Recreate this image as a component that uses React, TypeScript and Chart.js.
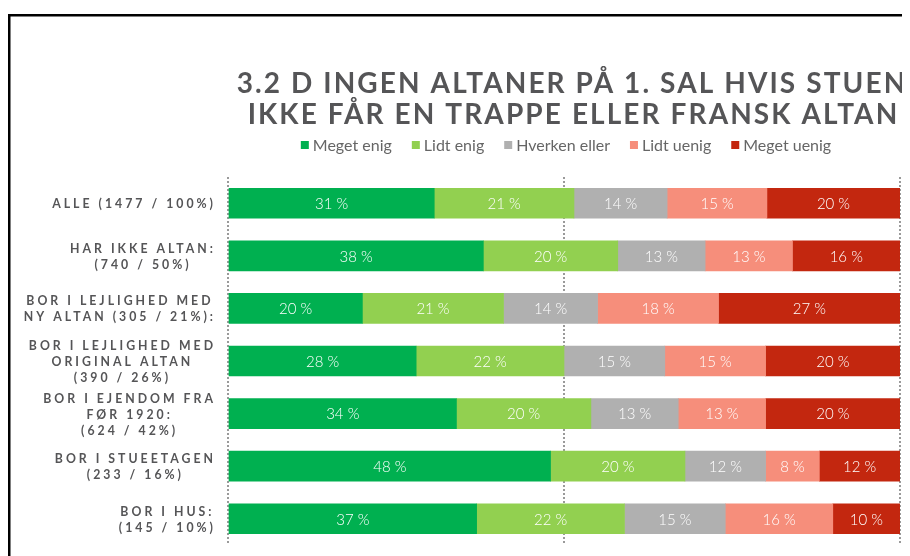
import React, { useEffect, useRef } from "react";
import { Chart, registerables } from "chart.js";
Chart.register(...registerables);

const titleLines = ["3.2 D INGEN ALTANER PÅ 1. SAL HVIS STUEN", "IKKE FÅR EN TRAPPE ELLER FRANSK ALTAN"];

const categories: string[][] = [
  ["ALLE (1477 / 100%)"],
  ["HAR IKKE ALTAN:", "(740 / 50%)"],
  ["BOR I LEJLIGHED MED", "NY ALTAN (305 / 21%):"],
  ["BOR I LEJLIGHED MED", "ORIGINAL ALTAN", "(390 / 26%)"],
  ["BOR I EJENDOM FRA", "FØR 1920:", "(624 / 42%)"],
  ["BOR I STUEETAGEN", "(233 / 16%)"],
  ["BOR I HUS:", "(145 / 10%)"],
];

const seriesNames = ["Meget enig", "Lidt enig", "Hverken eller", "Lidt uenig", "Meget uenig"];
const seriesColors = ["#00b050", "#92d050", "#b0b0b0", "#f68e7b", "#c3270f"];

const megetEnig = [31, 38, 20, 28, 34, 48, 37];
const lidtEnig = [21, 20, 21, 22, 20, 20, 22];
const hverkenEller = [14, 13, 14, 15, 13, 12, 15];
const lidtUenig = [15, 13, 18, 15, 13, 8, 16];
const megetUenig = [20, 16, 27, 20, 20, 12, 10];

const gridTicks = [0, 50, 100];

const series = [megetEnig, lidtEnig, hverkenEller, lidtUenig, megetUenig];

export default function App() {
  const ref = useRef<HTMLCanvasElement>(null);
  useEffect(() => {
    if (!ref.current) return;
    const totals = categories.map((_, j) => series.reduce((s, arr) => s + arr[j], 0));
    const datasets = series.map((arr, i) => ({
      label: seriesNames[i],
      data: arr.map((v, j) => (v / totals[j]) * 100),
      raw: arr,
      backgroundColor: seriesColors[i],
      borderWidth: 0,
      barThickness: 30,
    }));

    const textColor = "#555557";
    const overlay = {
      id: "overlay",
      afterDraw(chart: any) {
        const ctx = chart.ctx as CanvasRenderingContext2D;
        const W = chart.width;
        const H = chart.height;
        ctx.save();
        // frame
        ctx.fillStyle = "#000";
        ctx.fillRect(0, 6, W, 2.5);
        ctx.fillRect(0, 6, 2.5, H);

        // title
        ctx.fillStyle = textColor;
        ctx.font = "bold 28px Lato";
        (ctx as any).letterSpacing = "2.1px";
        ctx.textAlign = "center";
        ctx.textBaseline = "alphabetic";
        const tcx = 563;
        titleLines.forEach((t, i) => ctx.fillText(t, tcx + 1 + i * 1.5, 85 + i * 31));

        // legend
        ctx.font = "400 16px Lato";
        (ctx as any).letterSpacing = "0px";
        ctx.textAlign = "left";
        ctx.textBaseline = "middle";
        const widths = seriesNames.map((n) => 12 + ctx.measureText(n).width);
        const gap = 20;
        const total = widths.reduce((a, b) => a + b, 0) + gap * (widths.length - 1);
        let lx = 558 - total / 2;
        const ly = 137;
        seriesNames.forEach((n, i) => {
          ctx.fillStyle = seriesColors[i];
          ctx.fillRect(lx, ly - 4, 8, 8);
          ctx.fillStyle = "#666";
          ctx.fillText(n, lx + 12, ly + 1);
          lx += widths[i] + gap;
        });

        // y labels
        const yScale = chart.scales.y;
        ctx.font = "bold 12.3px Lato";
        (ctx as any).letterSpacing = "3px";
        ctx.fillStyle = textColor;
        ctx.textAlign = "center";
        ctx.textBaseline = "middle";
        const rightEdge = 205;
        categories.forEach((lines, j) => {
          const cy = yScale.getPixelForValue(j);
          const ws = lines.map((l) => ctx.measureText(l).width - 3);
          const maxW = Math.max(...ws);
          const cx = rightEdge - maxW / 2;
          const lh = 16;
          lines.forEach((l, k) => {
            const y = cy + (k - (lines.length - 1) / 2) * lh;
            ctx.fillText(l, cx + 1.5, y + 1);
          });
        });

        // data labels
        (ctx as any).letterSpacing = "0px";
        ctx.font = "300 15px Lato";
        ctx.fillStyle = "#fff";
        chart.data.datasets.forEach((ds: any, i: number) => {
          const meta = chart.getDatasetMeta(i);
          meta.data.forEach((bar: any, j: number) => {
            const p = bar.getProps(["x", "y", "base"], true);
            ctx.fillText(`${ds.raw[j]} %`, (p.x + p.base) / 2, p.y + 1);
          });
        });
        ctx.restore();
      },
    };

    const chart = new Chart(ref.current, {
      type: "bar",
      data: { labels: categories.map((c) => c.join(" ")), datasets: datasets as any },
      options: {
        indexAxis: "y",
        animation: false,
        responsive: true,
        maintainAspectRatio: false,
        layout: { padding: { left: 220, right: 10, top: 169, bottom: 11 } },
        plugins: { legend: { display: false }, title: { display: false }, tooltip: { enabled: false } },
        scales: {
          x: {
            stacked: true,
            min: 0,
            max: 100,
            afterBuildTicks: (axis: any) => {
              axis.ticks = gridTicks.map((v) => ({ value: v }));
            },
            ticks: { display: false },
            grid: { color: "#9a9a9a", lineWidth: 2, drawTicks: false },
            border: { display: false, dash: [2, 2] },
          },
          y: {
            stacked: true,
            ticks: { display: false },
            grid: { display: false, drawTicks: false },
            border: { display: false },
          },
        },
      },
      plugins: [overlay],
    });
    return () => chart.destroy();
  }, []);

  return (
    <div style={{ position: "relative", width: 902, height: 548 }}>
      <canvas ref={ref} />
    </div>
  );
}
